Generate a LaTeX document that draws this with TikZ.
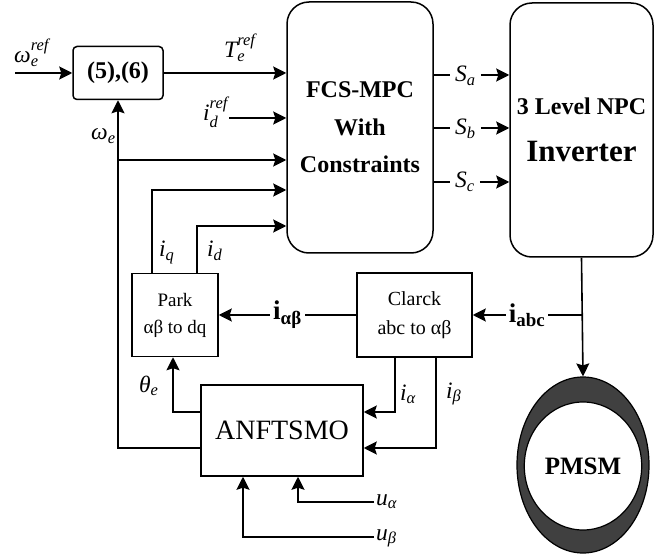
\documentclass[tikz,border=0pt]{standalone}
\usepackage{amsmath}
\usepackage{fontspec}
\setmainfont{Liberation Serif}
\usetikzlibrary{arrows.meta,positioning,shapes.geometric}
\newcommand{\vv}[1]{\textit{#1}}
\newcommand{\vb}[1]{\textbf{#1}}
\tikzset{
            blk/.style={draw, line width=1.5pt, rounded corners=4pt},
            bigblk/.style={draw, line width=1.5pt, rounded corners=22pt},
            sq/.style={draw, line width=1.5pt},
            sig/.style={line width=1.6pt, -{Stealth[length=13pt,width=13pt,inset=2pt]}},
            wire/.style={line width=1.6pt},
            lab/.style={font=\fontsize{23.5}{24}\selectfont, inner sep=0pt},
            swlab/.style={lab, inner xsep=5pt},
            blab/.style={font=\fontsize{27}{27}\selectfont, fill=white, inner sep=3pt}
        }

\begin{document}
\begin{tikzpicture}[x=1pt,y=-1pt]
\useasboundingbox (0,0) rectangle (670,556);
% blocks
\node[blk, minimum width=90pt, minimum height=53pt,
      font=\fontsize{24}{24}\selectfont\bfseries] (eqn) at (118,73) {(5),(6)};
\node[bigblk, minimum width=146pt, minimum height=251pt, align=center,
      font=\fontsize{24}{37.5}\selectfont\bfseries] (mpc) at (360,127.5) {FCS-MPC\\With\\Constraints};
\node[bigblk, minimum width=143pt, minimum height=254pt, align=center,
      font=\fontsize{24}{47}\selectfont\bfseries] (inv) at (581.5,130) {3 Level NPC\\{\fontsize{31}{47}\selectfont Inverter}};
\node[sq, minimum width=86pt, minimum height=83pt, align=center,
      font=\fontsize{19}{27}\selectfont] (park) at (175,315) {Park\\αβ to dq};
\node[sq, minimum width=115pt, minimum height=84pt, align=center,
      font=\fontsize{20}{29}\selectfont] (clk) at (414.5,315) {Clarck\\abc to αβ};
\node[sq, minimum width=162pt, minimum height=91pt,
      font=\fontsize{28}{28}\selectfont] (obs) at (282,430.5) {ANFTSMO};
\node[ellipse, draw, line width=1.2pt, fill=black!75,
      minimum width=132pt, minimum height=176pt] (ring) at (583,465) {};
\node[ellipse, draw, line width=1.2pt, fill=white,
      minimum width=100pt, minimum height=128pt,
      font=\fontsize{25}{25}\selectfont\bfseries] (pmsm) at (583,466) {PMSM};
% free ends
\coordinate (win) at (15,73);
\coordinate (idin) at (229,118);
\coordinate (ua) at (374,502);
\coordinate (ub) at (374,537);
% labels
\node[lab, anchor=base west] (wref) at (14,63) {$\vv{ω}_{\vv{e}}^{\vv{ref}}$};
\node[lab, anchor=base west] (teref) at (224,58) {$\vv{T}_{\vv{e}}^{\vv{ref}}$};
\node[lab, anchor=base west] (idref) at (203,121) {$\vv{i}_{\vv{d}}^{\vv{ref}}$};
\node[lab, anchor=base west] (we) at (91,140) {$\vv{ω}_{\vv{e}}$};
\node[lab, anchor=base west] (iq) at (159,257) {$\vv{i}_{\vv{q}}$};
\node[lab, anchor=base west] (id) at (207,257) {$\vv{i}_{\vv{d}}$};
\node[lab, anchor=base west] (ia) at (400,400) {$\vv{i}_{\vv{α}}$};
\node[lab, anchor=base west] (ib) at (446,398) {$\vv{i}_{\vv{β}}$};
\node[lab, anchor=base west] (th) at (139,392) {$\vv{θ}_{\vv{e}}$};
\node[lab, anchor=base west] (ual) at (376,505) {$\vv{u}_{\vv{α}}$};
\node[lab, anchor=base west] (ubl) at (376,540) {$\vv{u}_{\vv{β}}$};
\node[swlab, anchor=base west] (sa) at (450,82) {$\vv{S}_{\vv{a}}$};
\node[swlab, anchor=base west] (sb) at (450,135) {$\vv{S}_{\vv{b}}$};
\node[swlab, anchor=base west] (sc) at (450,188) {$\vv{S}_{\vv{c}}$};
% connectors
\draw[sig] (win) -- (eqn);
\draw[sig] (eqn) -- (eqn -| mpc.west);
\draw[sig] (idin) -- (idin -| mpc.west);
\draw[sig] (obs.west |- 0,448) -| (eqn.south);
\draw[sig] (eqn.south |- 0,160) -- (mpc.west |- 0,160);
\draw[sig] (park.north -| 152,0) |- (mpc.west |- 0,190);
\draw[sig] (park.north -| 197,0) |- (mpc.west |- 0,226);
\draw[wire] (mpc.east |- 0,75) -- (sa.west |- 0,75);
\draw[sig] (sa.east |- 0,75) -- (inv.west |- 0,75);
\draw[wire] (mpc.east |- 0,128) -- (sb.west |- 0,128);
\draw[sig] (sb.east |- 0,128) -- (inv.west |- 0,128);
\draw[wire] (mpc.east |- 0,182) -- (sc.west |- 0,182);
\draw[sig] (sc.east |- 0,182) -- (inv.west |- 0,182);
\draw[sig] (inv.south) -- (ring.north);
\draw[sig] (inv.south |- clk.east) -- node[blab] {$\vb{i}_{\vb{abc}}$} (clk.east);
\draw[sig] (clk.west) -- node[blab] {$\vb{i}_{\vb{αβ}}$} (park.east);
\draw[sig] (clk.south -| 395,0) |- (obs.east |- 0,412);
\draw[sig] (clk.south -| 436,0) |- (obs.east |- 0,448);
\draw[sig] (obs.west |- 0,412) -| (park.south -| 173,0);
\draw[sig] (ua) -| (obs.south -| 298,0);
\draw[sig] (ub) -| (obs.south -| 243,0);
\end{tikzpicture}
\end{document}
